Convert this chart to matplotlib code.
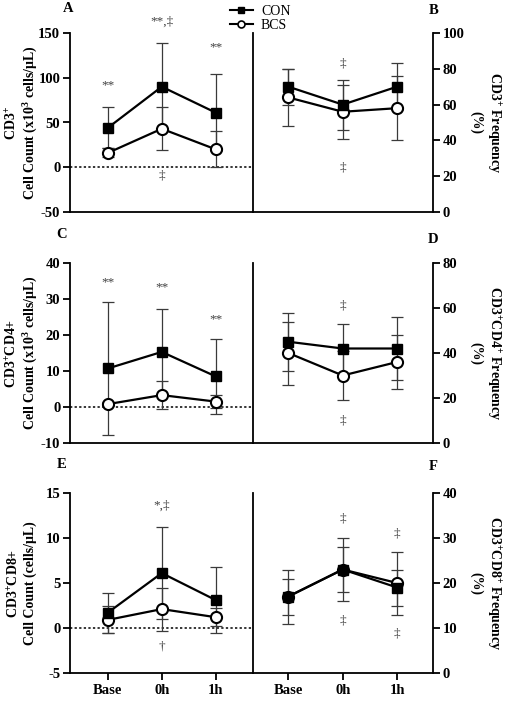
import matplotlib
matplotlib.use("Agg")
import matplotlib.pyplot as plt
from matplotlib.lines import Line2D

plt.rcParams['font.family'] = ['Liberation Serif', 'DejaVu Serif']
plt.rcParams['font.weight'] = 'bold'
plt.rcParams['axes.unicode_minus'] = False
plt.rcParams['mathtext.fontset'] = 'custom'
plt.rcParams['mathtext.rm'] = 'Liberation Serif:bold'
plt.rcParams['mathtext.it'] = 'Liberation Serif:bold'
plt.rcParams['mathtext.bf'] = 'Liberation Serif:bold'

# ------------------------------
# data
# ------------------------------
timepoints = ["Base", "0h", "1h"]
x = [0, 1, 2]

# CD3+ count
a_con = [44, 90, 61]
a_con_sd = [23, 49, 43]
a_bcs = [16, 43, 20]
a_bcs_sd = [5, 24, 20]
# CD3+ frequency
b_con = [70, 60, 70]
b_con_sd = [10, 14, 13]
b_bcs = [64, 56, 58]
b_bcs_sd = [16, 15, 18]
# CD3+CD4+ count
c_con = [10.7, 15.3, 8.5]
c_con_sd = [18.6, 12.0, 10.4]
c_bcs = [0.8, 3.3, 1.5]
c_bcs_sd = [0.6, 3.9, 1.9]
# CD3+CD4+ frequency
d_con = [45, 42, 42]
d_con_sd = [13, 11, 14]
d_bcs = [40, 30, 36]
d_bcs_sd = [14, 11, 12]
# CD3+CD8+ count
e_con = [1.7, 6.1, 3.1]
e_con_sd = [2.2, 5.1, 3.7]
e_bcs = [0.9, 2.1, 1.2]
e_bcs_sd = [1.5, 2.4, 1.0]
# CD3+CD8+ frequency
f_con = [17, 23, 19]
f_con_sd = [6, 7, 4]
f_bcs = [17, 23, 20]
f_bcs_sd = [4, 5, 7]

# significance marks: (x, y, text)
a_marks = [(0, 91, "**"), (1, 163, "**,‡"), (2, 134, "**"), (1, -9, "‡")]
b_marks = [(1, 83, "‡"), (1, 25, "‡")]
c_marks = [(0, 34.7, "**"), (1, 33.3, "**"), (2, 24.4, "**")]
d_marks = [(1, 61, "‡"), (1, 10, "‡")]
e_marks = [(1, 13.6, "*,‡"), (1, -2.1, "†")]
f_marks = [(1, 34.4, "‡"), (1, 11.7, "‡"), (2, 31, "‡"), (2, 8.8, "‡")]

W, H = 507, 701
fig = plt.figure(figsize=(W / 100, H / 100), dpi=100)


def box(x0, x1, y0, y1):
    # pixel box -> figure fraction
    return [x0 / W, 1 - y1 / H, (x1 - x0) / W, (y1 - y0) / H]


ERR = '#3a3a3a'


def draw(ax, con, con_sd, bcs, bcs_sd):
    for m, sd in ((con, con_sd), (bcs, bcs_sd)):
        ax.errorbar(x, m, yerr=sd, fmt='none', ecolor=ERR, elinewidth=0.9,
                    capsize=4.5, capthick=0.9, zorder=2)
    ax.plot(x, bcs, '-o', color='black', lw=1.6, ms=8, mfc='white',
            mec='black', mew=1.5, zorder=3)
    ax.plot(x, con, '-s', color='black', lw=1.6, ms=6.5, zorder=4)


def marks(ax, lst):
    for xx, yy, t in lst:
        ax.text(xx, yy, t, ha='center', va='center', fontsize=9.5,
                color='#404040', fontweight='normal')


rows = [(33, 212), (263, 443), (493, 673)]
left_data = [(a_con, a_con_sd, a_bcs, a_bcs_sd, (-50, 150), [-50, 0, 50, 100, 150], a_marks,
              "CD3$^{+}$\nCell Count (x10$^{3}$ cells/μL)"),
             (c_con, c_con_sd, c_bcs, c_bcs_sd, (-10, 40), [-10, 0, 10, 20, 30, 40], c_marks,
              "CD3$^{+}$CD4+\nCell Count (x10$^{3}$ cells/μL)"),
             (e_con, e_con_sd, e_bcs, e_bcs_sd, (-5, 15), [-5, 0, 5, 10, 15], e_marks,
              "CD3$^{+}$CD8+\nCell Count (cells/μL)")]
right_data = [(b_con, b_con_sd, b_bcs, b_bcs_sd, (0, 100), [0, 20, 40, 60, 80, 100], b_marks,
               "CD3$^{+}$ Frequency\n(%)"),
              (d_con, d_con_sd, d_bcs, d_bcs_sd, (0, 80), [0, 20, 40, 60, 80], d_marks,
               "CD3$^{+}$CD4$^{+}$ Frequency\n(%)"),
              (f_con, f_con_sd, f_bcs, f_bcs_sd, (0, 40), [0, 10, 20, 30, 40], f_marks,
               "CD3$^{+}$CD8$^{+}$ Frequency\n(%)")]
letters = [("A", 68, 9, "B", 434, 11), ("C", 62, 235, "D", 433, 239), ("E", 62, 465, "F", 433, 466)]

for i, (y0, y1) in enumerate(rows):
    last = i == 2
    ymid = 1 - (y0 + y1) / 2 / H
    # left panel: counts
    con, con_sd, bcs, bcs_sd, ylim, yt, mk, lab = left_data[i]
    axl = fig.add_axes(box(70, 253, y0, y1))
    draw(axl, con, con_sd, bcs, bcs_sd)
    axl.axhline(0, color='black', ls=(0, (1.5, 1.5)), lw=1.1, zorder=1)
    marks(axl, mk)
    axl.set_xlim(-0.7, 2.69)
    axl.set_ylim(*ylim)
    axl.set_yticks(yt)
    fig.text(22 / W, ymid, lab, rotation=90, ha='center', va='center',
             fontsize=10, fontweight='bold', linespacing=1.15, multialignment='center')
    for s in ('top', 'right'):
        axl.spines[s].set_visible(False)

    # right panel: frequency
    con, con_sd, bcs, bcs_sd, ylim, yt, mk, lab = right_data[i]
    axr = fig.add_axes(box(253, 433, y0, y1))
    draw(axr, con, con_sd, bcs, bcs_sd)
    marks(axr, mk)
    axr.set_xlim(-0.65, 2.66)
    axr.set_ylim(*ylim)
    axr.set_yticks(yt)
    axr.yaxis.tick_right()
    fig.text(486 / W, ymid, lab, rotation=270, ha='center', va='center',
             fontsize=10, fontweight='bold', linespacing=1.15, multialignment='center')
    axr.spines['top'].set_visible(False)
    axr.tick_params(axis='y', left=False)

    for ax in (axl, axr):
        for s in ax.spines.values():
            s.set_linewidth(1.3)
        ax.tick_params(axis='y', width=1.3, length=5, labelsize=10.5, pad=2)
        ax.set_xticks(x)
        if last:
            ax.set_xticklabels(timepoints, fontsize=10.5, fontweight='bold')
            ax.tick_params(axis='x', width=1.3, length=5, pad=3)
        else:
            ax.tick_params(axis='x', length=0, labelbottom=False)
        for t in ax.get_yticklabels():
            t.set_fontweight('bold')

    l1, lx1, ly1, l2, lx2, ly2 = letters[i]
    fig.text(lx1 / W, 1 - ly1 / H, l1, ha='center', va='center', fontsize=10.5, fontweight='bold')
    fig.text(lx2 / W, 1 - ly2 / H, l2, ha='center', va='center', fontsize=10.5, fontweight='bold')

handles = [Line2D([], [], color='black', marker='s', ms=4.5, lw=1.5),
           Line2D([], [], color='black', marker='o', ms=5, mfc='white', mew=1.2, lw=1.5)]
fig.legend(handles, ["CON", "BCS"], loc='upper left', bbox_to_anchor=(222 / W, 1.005),
           frameon=False, prop={'size': 10, 'weight': 'normal'}, handlelength=1.6,
           handletextpad=0.6, labelspacing=0.1, borderpad=0.1)

fig.savefig("out.png", dpi=100)
